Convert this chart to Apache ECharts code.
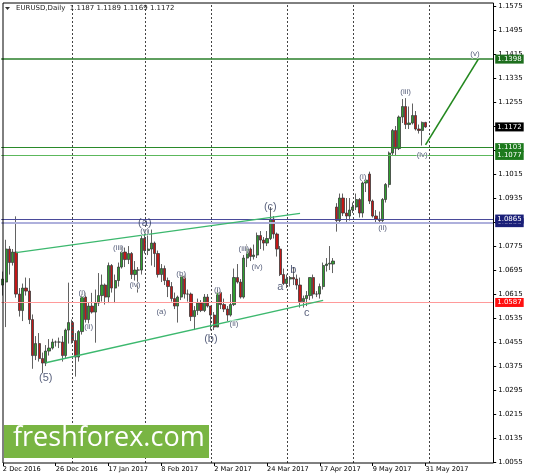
<!DOCTYPE html>
<html><head><meta charset="utf-8">
<script src="https://cdn.jsdelivr.net/npm/echarts@6/dist/echarts.min.js"></script>
<style>html,body{margin:0;padding:0;background:#fff}#c{width:533px;height:476px}</style>
</head><body><div id="c"></div>
<script>
// ---------- DATA ----------
const opens  = [1.0645,1.0655,1.0765,1.0720,1.0755,1.0615,1.0560,1.0635,1.0625,1.0530,1.0410,1.0450,1.0400,1.0385,1.0425,1.0435,1.0455,1.0455,1.0455,1.0410,1.0495,
  1.0520,1.0460,1.0405,1.0490,1.0605,1.0530,1.0575,1.0555,1.0585,1.0610,1.0645,1.0605,1.0710,1.0635,1.0660,1.0705,1.0755,1.0730,1.0750,1.0680,1.0695,1.0695,
  1.0800,1.0760,1.0765,1.0785,1.0750,1.0680,1.0700,1.0660,1.0640,1.0600,1.0575,1.0605,1.0675,1.0615,1.0615,1.0540,1.0560,1.0585,1.0560,1.0605,
  1.0575,1.0545,1.0505,1.0620,1.0580,1.0565,1.0545,1.0580,1.0670,1.0655,1.0605,1.0735,1.0765,1.0740,1.0745,1.0810,1.0795,1.0785,1.0800,1.0865,1.0815,1.0765,1.0680,
  1.0650,1.0665,1.0670,1.0665,1.0645,1.0590,1.0600,1.0610,1.0670,1.0615,1.0615,1.0640,1.0710,1.0715,1.0715,1.0905,1.0860,1.0935,1.0885,1.0875,
  1.0895,1.0905,1.0930,1.0885,1.0985,1.1015,1.0925,1.0875,1.0865,1.0860,1.0930,1.0980,1.1085,1.1160,1.1100,1.1205,1.1240,1.1180,1.1185,1.1210,1.1165,1.1160,1.1187];
const highs  = [1.0690,1.0796,1.0775,1.0765,1.0874,1.0635,1.0650,1.0670,1.0668,1.0547,1.0475,1.0485,1.0420,1.0445,1.0465,1.0466,1.0460,1.0470,1.0475,1.0500,1.0653,
  1.0530,1.0485,1.0495,1.0615,1.0620,1.0585,1.0619,1.0630,1.0685,1.0680,1.0650,1.0720,1.0715,1.0680,1.0720,1.0775,1.0770,1.0775,1.0755,1.0725,1.0705,1.0810,
  1.0830,1.0829,1.0830,1.0790,1.0760,1.0715,1.0710,1.0670,1.0655,1.0620,1.0610,1.0680,1.0680,1.0630,1.0620,1.0575,1.0600,1.0595,1.0615,1.0615,
  1.0575,1.0555,1.0630,1.0625,1.0600,1.0575,1.0615,1.0700,1.0715,1.0665,1.0745,1.0780,1.0770,1.0780,1.0820,1.0825,1.0805,1.0825,1.0905,1.0875,1.0820,1.0775,1.0700,
  1.0680,1.0675,1.0705,1.0680,1.0670,1.0610,1.0625,1.0670,1.0680,1.0625,1.0650,1.0720,1.0735,1.0775,1.0735,1.0918,1.0950,1.0950,1.0935,1.0935,
  1.0920,1.0950,1.0935,1.0990,1.1000,1.1023,1.0930,1.0895,1.0890,1.0935,1.0985,1.1090,1.1165,1.1175,1.1210,1.1265,1.1268,1.1240,1.1250,1.1225,1.1180,1.1190,1.1189];
const lows   = [1.0610,1.0505,1.0680,1.0710,1.0603,1.0540,1.0525,1.0610,1.0515,1.0366,1.0395,1.0390,1.0352,1.0375,1.0410,1.0430,1.0440,1.0435,1.0390,1.0400,1.0450,
  1.0450,1.0340,1.0390,1.0480,1.0520,1.0515,1.0550,1.0453,1.0575,1.0590,1.0580,1.0585,1.0620,1.0585,1.0640,1.0700,1.0705,1.0715,1.0665,1.0660,1.0620,1.0680,
  1.0750,1.0745,1.0710,1.0705,1.0670,1.0655,1.0645,1.0605,1.0590,1.0565,1.0520,1.0595,1.0600,1.0590,1.0525,1.0495,1.0545,1.0555,1.0555,1.0570,
  1.0494,1.0495,1.0505,1.0565,1.0555,1.0525,1.0540,1.0575,1.0650,1.0600,1.0600,1.0705,1.0725,1.0730,1.0735,1.0765,1.0760,1.0775,1.0795,1.0800,1.0740,1.0675,1.0645,
  1.0635,1.0640,1.0645,1.0630,1.0570,1.0570,1.0575,1.0595,1.0600,1.0605,1.0600,1.0630,1.0690,1.0695,1.0685,1.0823,1.0850,1.0875,1.0850,1.0860,
  1.0885,1.0895,1.0870,1.0870,1.0955,1.0915,1.0870,1.0850,1.0852,1.0855,1.0920,1.0970,1.1075,1.1075,1.1095,1.1185,1.1165,1.1165,1.1180,1.1160,1.1150,1.1110,1.1169];
const closes = [1.0665,1.0765,1.0720,1.0755,1.0615,1.0560,1.0635,1.0625,1.0530,1.0410,1.0450,1.0400,1.0385,1.0425,1.0435,1.0455,1.0455,1.0455,1.0410,1.0495,1.0520,
  1.0460,1.0405,1.0490,1.0605,1.0530,1.0575,1.0555,1.0585,1.0610,1.0645,1.0605,1.0710,1.0635,1.0660,1.0705,1.0755,1.0730,1.0750,1.0680,1.0695,1.0695,1.0800,
  1.0760,1.0765,1.0785,1.0750,1.0680,1.0700,1.0660,1.0640,1.0600,1.0575,1.0605,1.0675,1.0615,1.0615,1.0540,1.0560,1.0585,1.0560,1.0605,1.0575,
  1.0545,1.0505,1.0620,1.0580,1.0565,1.0545,1.0580,1.0670,1.0655,1.0605,1.0735,1.0765,1.0740,1.0745,1.0810,1.0795,1.0785,1.0800,1.0865,1.0815,1.0765,1.0680,1.0650,
  1.0665,1.0670,1.0665,1.0645,1.0590,1.0600,1.0610,1.0670,1.0615,1.0615,1.0640,1.0710,1.0715,1.0718,1.0725,1.0860,1.0935,1.0885,1.0875,1.0895,
  1.0905,1.0930,1.0885,1.0985,1.0995,1.0925,1.0875,1.0865,1.0860,1.0930,1.0980,1.1085,1.1160,1.1100,1.1205,1.1240,1.1180,1.1185,1.1210,1.1165,1.1160,1.1187,1.1172];

const FIRST_DAY = [2016, 11, 2];   // 2 Dec 2016 (month 0-based)
const SLOT_COUNT = 149;            // trading days incl. empty future space
const xTickLabels = ['2 Dec 2016','26 Dec 2016','17 Jan 2017','8 Feb 2017','2 Mar 2017','24 Mar 2017','17 Apr 2017','9 May 2017','31 May 2017'];
const yTickLabels = [1.0055,1.0135,1.0215,1.0295,1.0375,1.0455,1.0535,1.0615,1.0695,1.0775,1.0855,1.0935,1.1015,1.1095,1.1175,1.1255,1.1335,1.1415,1.1495,1.1575];

const levelValues = [1.1398, 1.1103, 1.1077, 1.0853, 1.0865, 1.0587];
const lastPrice = 1.1172;
const ohlcTitle = ['1.1187','1.1189','1.1169','1.1172'];

// trend lines: [barIndex, price]
const upperChannel = [[4, 1.0753], [90, 1.0884]];
const lowerChannel = [[13, 1.0386], [97, 1.0594]];
const targetLine   = [[128, 1.1112], [144, 1.1398]];

// wave labels: [text, barIndex, price]
const bigLabels = [['(5)',13,1.0335],['(a)',43,1.0852],['(b)',63,1.0465],['(c)',81,1.0905],['a',84,1.0638],['b',88,1.0695],['c',92,1.0552]];
const smallLabels = [['(i)',24,1.0618],['(ii)',26,1.0505],['(iii)',35,1.0768],['(iv)',40,1.0645],['(v)',43,1.0826],
  ['(a)',48,1.0555],['(b)',54,1.0682],['(i)',65,1.0628],['(ii)',70,1.0515],['(iii)',73,1.0765],['(iv)',77,1.0705],
  ['(i)',109,1.1005],['(ii)',115,1.0835],['(iii)',122,1.1288],['(iv)',127,1.1078],['(v)',143,1.1415]];

// ---------- BUILD ----------
const MONTHS = ['Jan','Feb','Mar','Apr','May','Jun','Jul','Aug','Sep','Oct','Nov','Dec'];
const dates = [];
(function(){
  let t = Date.UTC(FIRST_DAY[0], FIRST_DAY[1], FIRST_DAY[2]);
  while (dates.length < SLOT_COUNT) {
    const d = new Date(t); const wd = d.getUTCDay();
    if (wd !== 0 && wd !== 6) dates.push(d.toISOString().slice(0,10));
    t += 86400000;
  }
})();
function fmtDate(s){ const p=s.split('-'); return (+p[2])+' '+MONTHS[+p[1]-1]+' '+p[0]; }
const showX = (i) => xTickLabels.indexOf(fmtDate(dates[i])) >= 0;
const monthStarts = [];
for (let i=1;i<dates.length;i++){ if (dates[i].slice(5,7)!==dates[i-1].slice(5,7)) monthStarts.push(i); }

const candles = opens.map((o,i)=>[o, closes[i], lows[i], highs[i]]);

const FONT = 'DejaVu Sans';
const levelStyle = {
  1.1398: {line:'#2a7f2a', w:1.6, box:'#1d6e1d'},
  1.1103: {line:'#2a8a2a', w:1, box:'#1d7a1d'},
  1.1077: {line:'#5cb85c', w:1, box:'#1d7a1d'},
  1.0853: {line:'#aeb0dc', w:2, box:'#1a1f78'},
  1.0865: {line:'#4a4a9a', w:1, box:'#1a1f78'},
  1.0587: {line:'#ff9a9a', w:1, box:'#ff1010'}
};
function boxLabel(txt, bg){
  return {show:true, position:'end', distance:2, formatter:txt, color:'#fff', backgroundColor:bg,
    fontFamily:FONT, fontSize:7, lineHeight:8, padding:[1,2,0,2], borderRadius:0};
}
const levelLines = levelValues.map(v => ({
  yAxis: v, lineStyle:{color:levelStyle[v].line, width:levelStyle[v].w, type:'solid'},
  label: boxLabel(v.toFixed(4), levelStyle[v].box)
}));
levelLines.push({yAxis:lastPrice, lineStyle:{color:'rgba(0,0,0,0)', width:0}, label: boxLabel(lastPrice.toFixed(4), '#000')});

const labelColor = '#2f3a5c';
function labelPoints(arr, size){
  return arr.map(a => ({value:[a[1], a[2]], label:{formatter:a[0], fontSize:size}}));
}

const chart = echarts.init(document.getElementById('c'), null, {renderer:'canvas'});
chart.setOption({
  animation:false,
  backgroundColor:'#fff',
  grid:{left:1.2, top:3, width:492, height:460, outerBoundsMode:'none', containLabel:false},
  xAxis:{
    type:'category', data:dates, boundaryGap:true,
    axisLine:{show:false},
    axisTick:{show:true, alignWithLabel:true, length:3, interval:(i)=>showX(i), lineStyle:{color:'#000'}},
    axisLabel:{show:true, interval:(i)=>showX(i), align:'left', margin:3, fontFamily:FONT, fontSize:6.6, color:'#000',
      formatter:(v)=>fmtDate(v)},
    splitLine:{show:false}
  },
  yAxis:{
    type:'value', position:'right', min:1.0052, max:1.1585,
    axisLine:{show:false},
    axisTick:{show:true, length:3, customValues:yTickLabels, lineStyle:{color:'#000'}},
    axisLabel:{show:true, customValues:yTickLabels, margin:5, fontFamily:FONT, fontSize:7, color:'#000',
      formatter:(v)=>v.toFixed(4)},
    splitLine:{show:false}
  },
  series:[
    {type:'line', data:[], silent:true,
      markLine:{silent:true, symbol:'none', animation:false, label:{show:false}, precision:0,
        lineStyle:{type:[2,2], color:'#444', width:1},
        data: monthStarts.map(i=>({xAxis:i}))}},
    {type:'line', data:[], silent:true, z:3,
      markLine:{silent:true, symbol:'none', animation:false, precision:4, data: levelLines}},
    {type:'candlestick', data:candles, barWidth:2.7, z:4,
      itemStyle:{color:'#2f9f2f', color0:'#c21717', borderColor:'#3a3a3a', borderColor0:'#3a3a3a', borderWidth:0.8}},
    {type:'line', data:upperChannel, symbol:'none', z:5, lineStyle:{color:'#3cb86e', width:1.4}},
    {type:'line', data:lowerChannel, symbol:'none', z:5, lineStyle:{color:'#3cb86e', width:1.4}},
    {type:'line', data:targetLine, symbol:'none', z:5, lineStyle:{color:'#23881f', width:1.6}},
    {type:'scatter', data:labelPoints(smallLabels, 8), symbolSize:1, z:6,
      itemStyle:{color:'rgba(0,0,0,0)'},
      label:{show:true, position:'inside', color:labelColor, fontFamily:'Liberation Sans', textBorderColor:'rgba(255,255,255,0.8)', textBorderWidth:1.5}},
    {type:'scatter', data:labelPoints(bigLabels, 11), symbolSize:1, z:6,
      itemStyle:{color:'rgba(0,0,0,0)'},
      label:{show:true, position:'inside', color:labelColor, fontFamily:'Liberation Sans'}}
  ],
  graphic:[
    {type:'rect', z:100, silent:true, shape:{x:3, y:3, width:490.5, height:460}, style:{fill:null, stroke:'#000', lineWidth:1}},
    {type:'polygon', z:100, shape:{points:[[5,7],[10,7],[7.5,10]]}, style:{fill:'#333'}},
    {type:'text', z:100, x:16, y:5, style:{text:'EURUSD,Daily  '+ohlcTitle.join(' '), fontFamily:FONT, fontSize:7, fill:'#222'}},
    {type:'rect', z:90, shape:{x:4, y:425, width:205, height:33}, style:{fill:'#79b543'}},
    {type:'text', z:91, x:13, y:425, style:{text:'freshforex.com', fontFamily:'Open Sans', fontSize:27, fill:'#fff', textVerticalAlign:'top'}}
  ]
});
</script>
</body></html>
